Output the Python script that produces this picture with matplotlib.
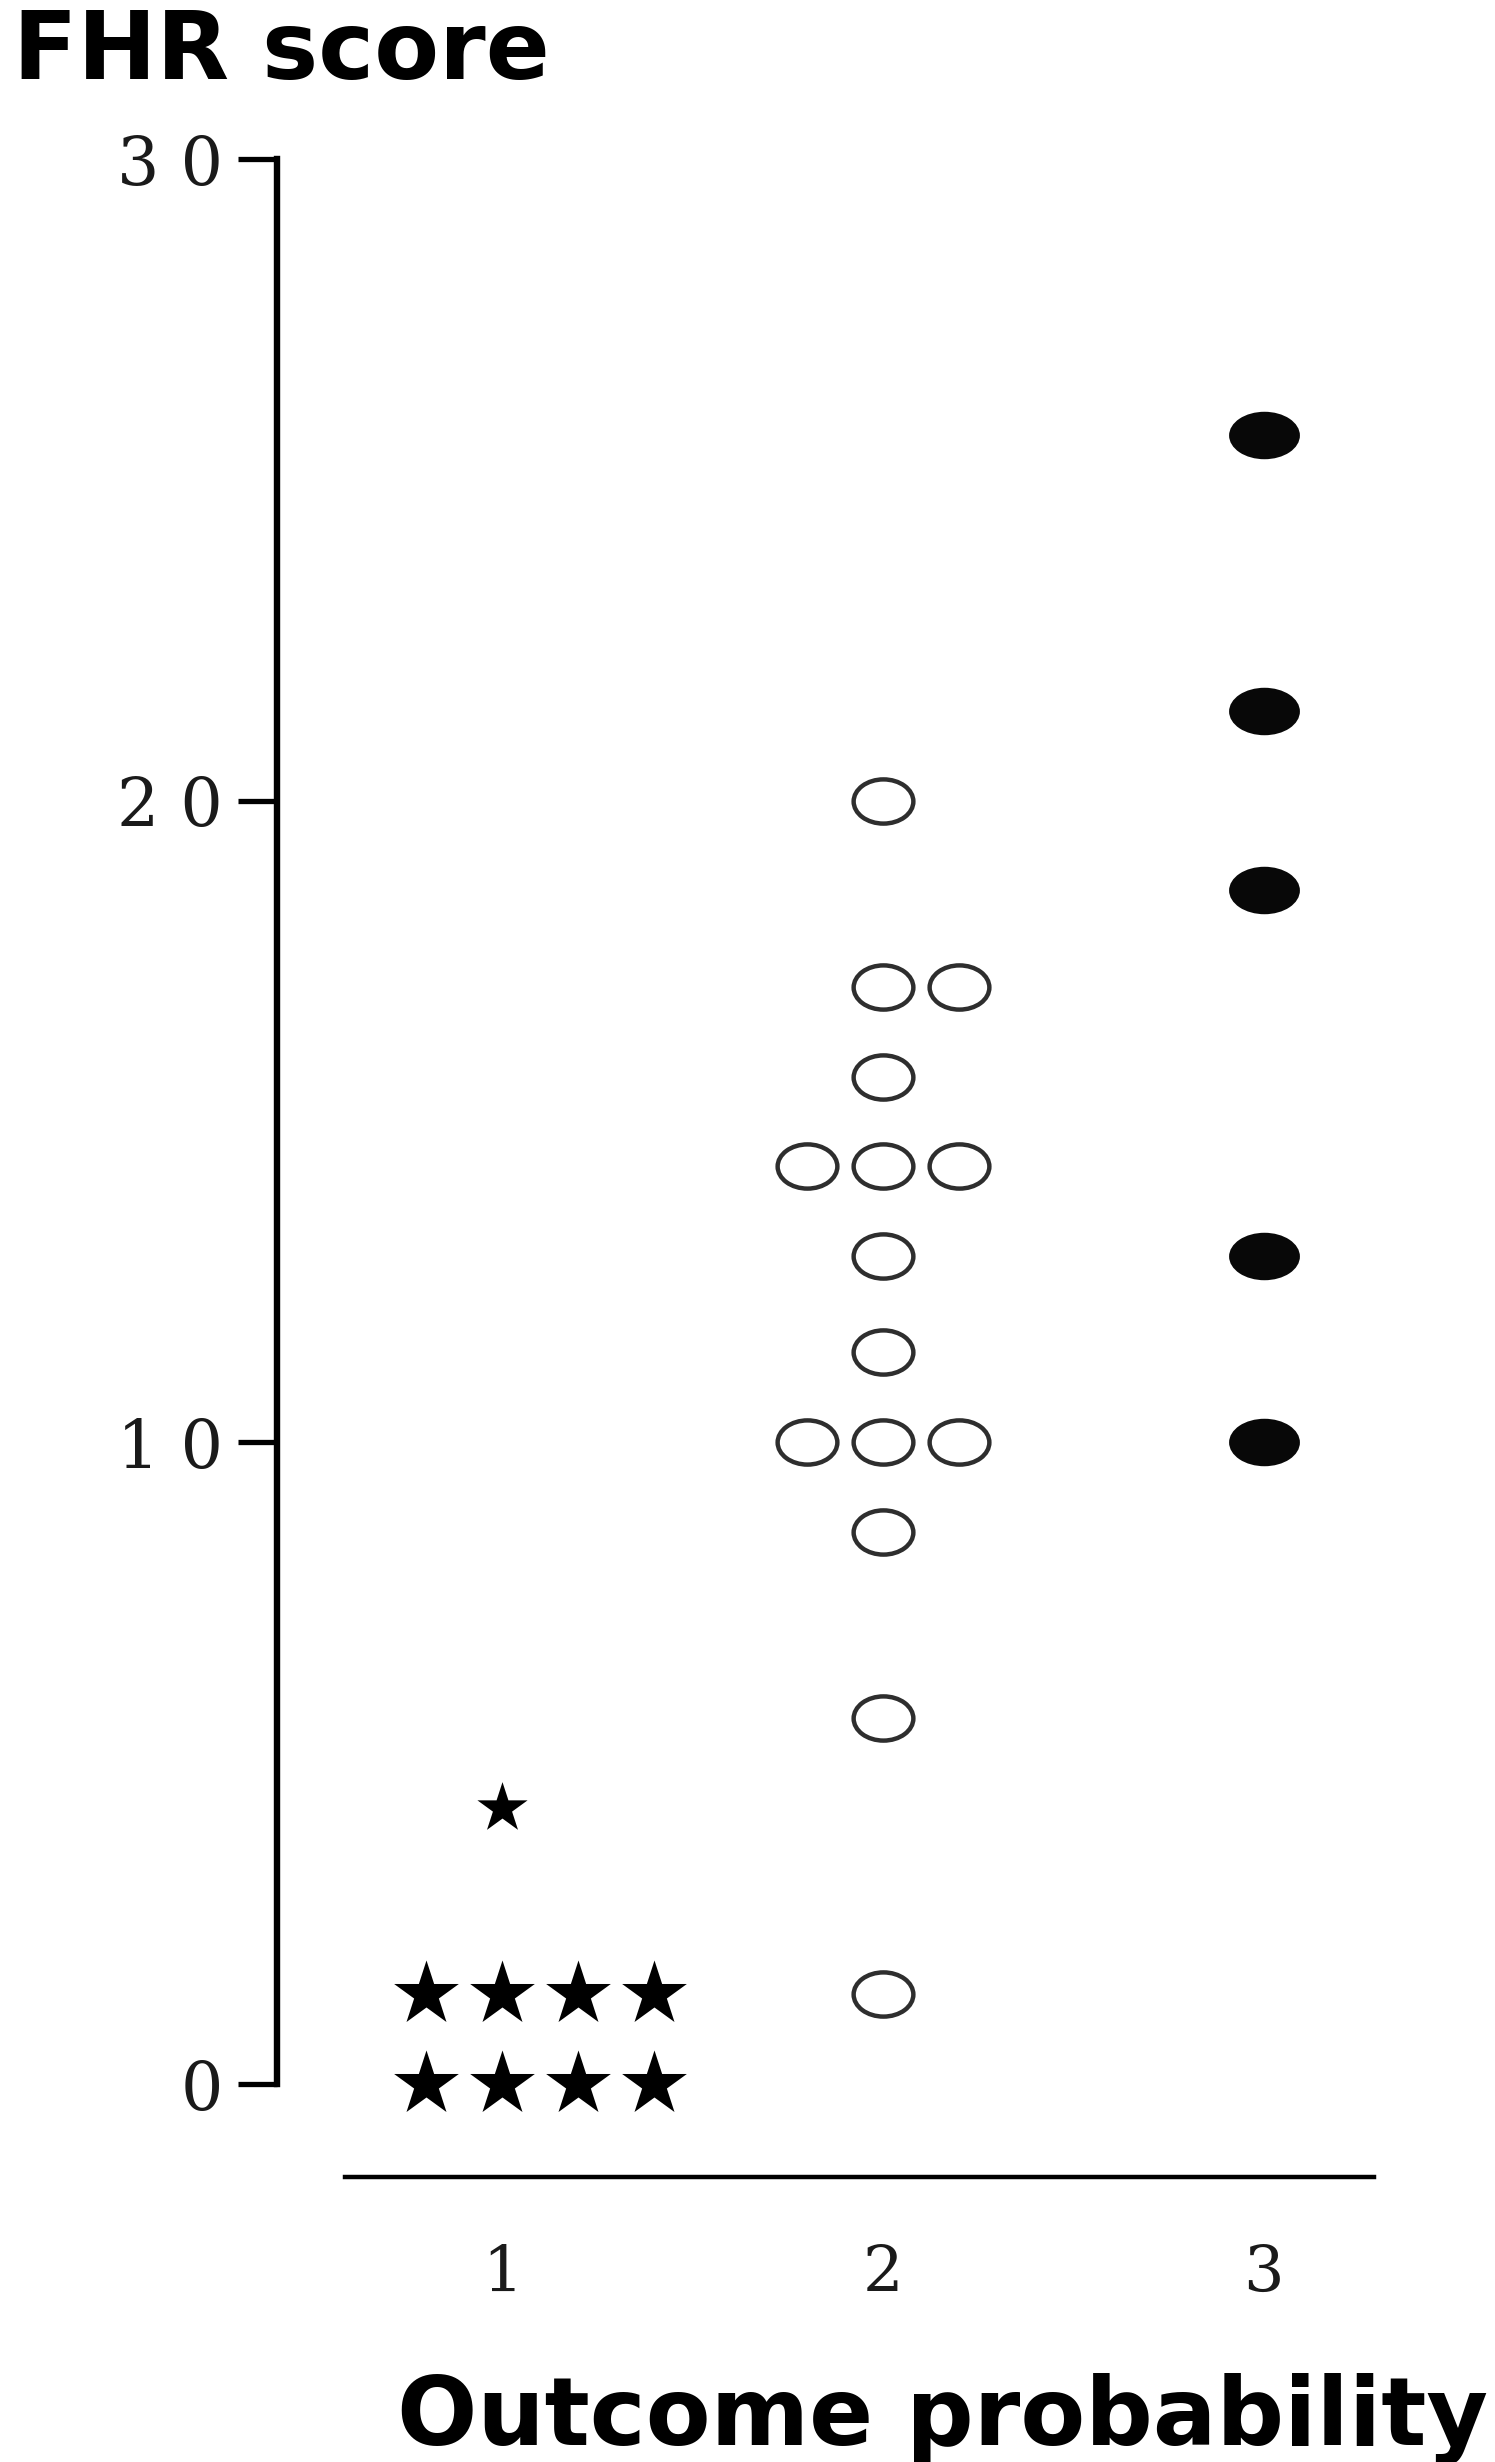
import matplotlib
matplotlib.use("Agg")
import matplotlib.pyplot as plt
from matplotlib.path import Path
from matplotlib.transforms import Affine2D
import numpy as np

# outcome probability group 1 (stars)
star_x = [0.8, 1.0, 1.2, 1.4, 0.8, 1.0, 1.2, 1.4, 1.0]
star_y = [0.0, 0.0, 0.0, 0.0, 1.4, 1.4, 1.4, 1.4, 4.3]

# group 2 (open circles)
open_x = [2.0, 2.0, 2.2, 2.0, 1.8, 2.0, 2.2, 2.0, 2.0, 1.8, 2.0, 2.2, 2.0, 2.0, 2.0]
open_y = [20.0, 17.1, 17.1, 15.7, 14.3, 14.3, 14.3, 12.9, 11.4, 10.0, 10.0, 10.0, 8.6, 5.7, 1.4]

# group 3 (filled circles)
fill_x = [3.0, 3.0, 3.0, 3.0, 3.0]
fill_y = [25.7, 21.4, 18.6, 12.9, 10.0]

y_ticks = [0, 10, 20, 30]
y_ticklabels = ["0", "1 0", "2 0", "3 0"]
x_ticks = [1, 2, 3]
x_ticklabels = ["1", "2", "3"]


def ellipse_marker(ratio):
    circ = Path.unit_circle()
    return circ.transformed(Affine2D().scale(1.0, ratio))


fig = plt.figure(figsize=(14.95, 24.62), dpi=100)
ax = fig.add_axes([0.1853, 0.11576, 0.7492, 0.81966])

small_star = np.array(star_y) > 3
ax.scatter(np.array(star_x)[~small_star], np.array(star_y)[~small_star],
           marker='*', s=49**2, color='black', linewidths=0, zorder=3)
ax.scatter(np.array(star_x)[small_star], np.array(star_y)[small_star],
           marker='*', s=38**2, color='black', linewidths=0, zorder=3)

ax.scatter(open_x, open_y, marker=ellipse_marker(0.74), s=43**2,
           facecolors='white', edgecolors='#2e2e2e', linewidths=3.2, zorder=3)
ax.scatter(fill_x, fill_y, marker=ellipse_marker(0.67), s=51**2,
           color='#080808', linewidths=0, zorder=3)

ax.set_xlim(0.409, 3.35)
ax.set_ylim(-1.45, 30)

for s in ['top', 'right']:
    ax.spines[s].set_visible(False)
ax.spines['left'].set_bounds(0, 30)
ax.spines['left'].set_linewidth(4.6)
ax.spines['bottom'].set_bounds(0.588, 3.29)
ax.spines['bottom'].set_linewidth(3.2)

ax.set_yticks(y_ticks)
ax.set_yticklabels(y_ticklabels, family='DejaVu Serif', fontsize=48, color='#1a1a1a')
ax.tick_params(axis='y', length=28, width=3.8, pad=11, color='black')

ax.set_xticks(x_ticks)
ax.set_xticklabels(x_ticklabels, family='DejaVu Serif', fontsize=46, color='#1a1a1a')
ax.tick_params(axis='x', length=0, pad=48)

fig.text(0.009, 1 - 79 / 2462, "FHR score", family='DejaVu Sans', weight='bold',
         fontsize=68, ha='left', va='baseline')
fig.text(1488 / 1495, 1 - 2445 / 2462, "Outcome probability", family='DejaVu Sans',
         weight='bold', fontsize=68, ha='right', va='baseline')

fig.savefig("out.png", dpi=100)
